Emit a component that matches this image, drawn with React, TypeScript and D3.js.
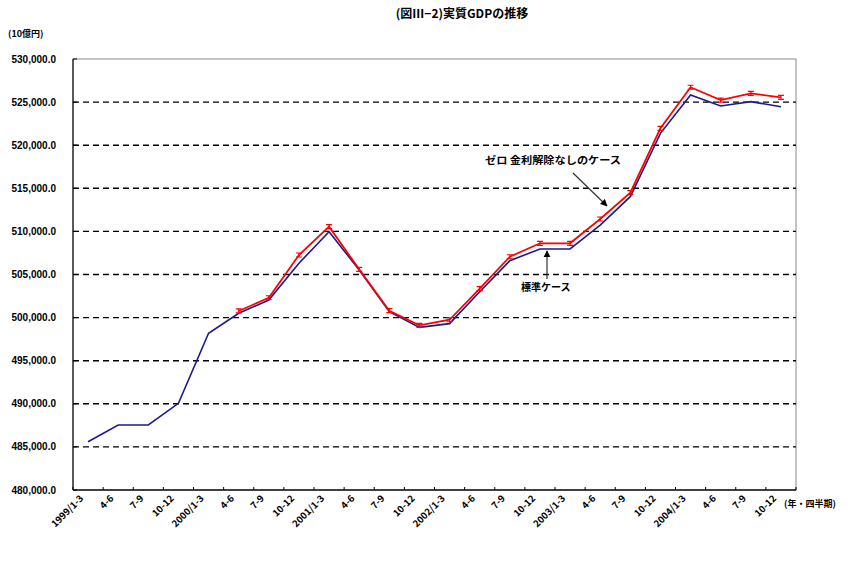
import React from "react";
import * as d3 from "d3";

const quarters = [
  "1999/1-3", "4-6", "7-9", "10-12",
  "2000/1-3", "4-6", "7-9", "10-12",
  "2001/1-3", "4-6", "7-9", "10-12",
  "2002/1-3", "4-6", "7-9", "10-12",
  "2003/1-3", "4-6", "7-9", "10-12",
  "2004/1-3", "4-6", "7-9", "10-12",
];

// 標準ケース
const baseCase = [
  485600, 487540, 487540, 490060,
  498180, 500500, 502040, 506300,
  509970, 505520, 500690, 498870,
  499300, 503000, 506600, 507960,
  507960, 510740, 514030, 521380,
  525820, 524550, 525050, 524470,
];

// ゼロ金利解除なしのケース (from 2000/4-6)
const noLiftCase: (number | null)[] = [
  null, null, null, null,
  null, 500770, 502300, 507260,
  510550, 505600, 500800, 499100,
  499750, 503350, 507060, 508620,
  508620, 511440, 514490, 521960,
  526720, 525240, 526010, 525550,
];

const yTicks = [480000, 485000, 490000, 495000, 500000, 505000, 510000, 515000, 520000, 525000, 530000];

const W = 856;
const H = 562;
const left = 73;
const right = 796;
const top = 59;
const bottom = 490;
const font = "'Noto Sans CJK JP', 'Liberation Sans', sans-serif";

export default function App() {
  const x = d3.scaleBand<number>().domain(quarters.map((_, i) => i)).range([left, right]).padding(0);
  const y = d3.scaleLinear().domain([480000, 530000]).range([bottom, top]);
  const cx = (i: number) => (x(i) as number) + x.bandwidth() / 2;
  const fmt = d3.format(",.1f");

  const blueLine = d3.line<number>().x((_, i) => cx(i)).y((d) => y(d))(baseCase) || "";
  const redPts = noLiftCase
    .map((v, i) => ({ v, i }))
    .filter((d) => d.v !== null) as { v: number; i: number }[];
  const redLine = d3.line<{ v: number; i: number }>().x((d) => cx(d.i)).y((d) => y(d.v))(redPts) || "";

  const boundaries = quarters.map((_, i) => x(i) as number).concat([right]);

  return (
    <svg width={W} height={H} style={{ position: "absolute", left: 0, top: 0, background: "#fff" }} fontFamily={font}>
      <rect x={0} y={0} width={W} height={H} fill="#fff" />
      <text x={462} y={18} textAnchor="middle" fontSize={12} fontWeight="bold">(図Ⅲ−2)実質GDPの推移</text>
      <text x={8} y={37} fontSize={9} fontWeight="bold">(10億円)</text>

      {/* plot frame */}
      <line x1={left} x2={right} y1={top} y2={top} stroke="#888" strokeWidth={1} />
      <line x1={right} x2={right} y1={top} y2={bottom} stroke="#888" strokeWidth={1} />

      {/* gridlines */}
      {yTicks.filter((t) => t > 480000 && t < 530000).map((t) => (
        <line key={t} x1={left} x2={right} y1={y(t)} y2={y(t)} stroke="#000" strokeWidth={1.4} strokeDasharray="6,4" />
      ))}

      {/* y axis */}
      <line x1={left} x2={left} y1={top} y2={bottom} stroke="#000" strokeWidth={1.3} />
      {yTicks.map((t) => (
        <g key={t}>
          <line x1={left} x2={left + 4} y1={y(t)} y2={y(t)} stroke="#000" strokeWidth={1} />
          <text x={56} y={y(t) + 3.5} textAnchor="end" fontSize={10} fontWeight="bold" fontFamily="'Liberation Sans', sans-serif">{fmt(t)}</text>
        </g>
      ))}

      {/* x axis */}
      <line x1={left} x2={right} y1={bottom} y2={bottom} stroke="#000" strokeWidth={1.3} />
      {boundaries.map((b, i) => (
        <line key={i} x1={b} x2={b} y1={bottom} y2={bottom - 3} stroke="#000" strokeWidth={1} />
      ))}
      {quarters.map((q, i) => (
        <text key={i} transform={`translate(${cx(i) - 4},${bottom + 9}) rotate(-45)`} textAnchor="end" fontSize={9.5} fontWeight="bold">{q}</text>
      ))}
      <text x={784} y={507} fontSize={9} fontWeight="bold">(年・四半期)</text>

      {/* series */}
      <path d={blueLine} fill="none" stroke="#1a1a8c" strokeWidth={1.6} />
      <path d={redLine} fill="none" stroke="#ff0000" strokeWidth={1.8} />
      {redPts.map((d) => (
        <path key={d.i} transform={`translate(${cx(d.i)},${y(d.v)})`} d="M-3,-2H3M-3,2H3M0,-2V2" stroke="#ff0000" strokeWidth={1.2} fill="none" />
      ))}

      {/* annotations */}
      <defs>
        <marker id="ah" viewBox="0 0 10 10" refX={9} refY={5} markerWidth={6} markerHeight={6} orient="auto">
          <path d="M0,0L10,5L0,10z" fill="#000" />
        </marker>
      </defs>
      <text x={485} y={164} fontSize={10} fontWeight="bold" textLength={136} lengthAdjust="spacingAndGlyphs">ゼロ 金利解除なしのケース</text>
      <line x1={573} y1={173} x2={607} y2={206} stroke="#333" strokeWidth={1.2} markerEnd="url(#ah)" />
      <text x={521} y={291} fontSize={10} fontWeight="bold">標準ケース</text>
      <line x1={547} y1={279} x2={547} y2={251} stroke="#333" strokeWidth={1.2} markerEnd="url(#ah)" />
    </svg>
  );
}
